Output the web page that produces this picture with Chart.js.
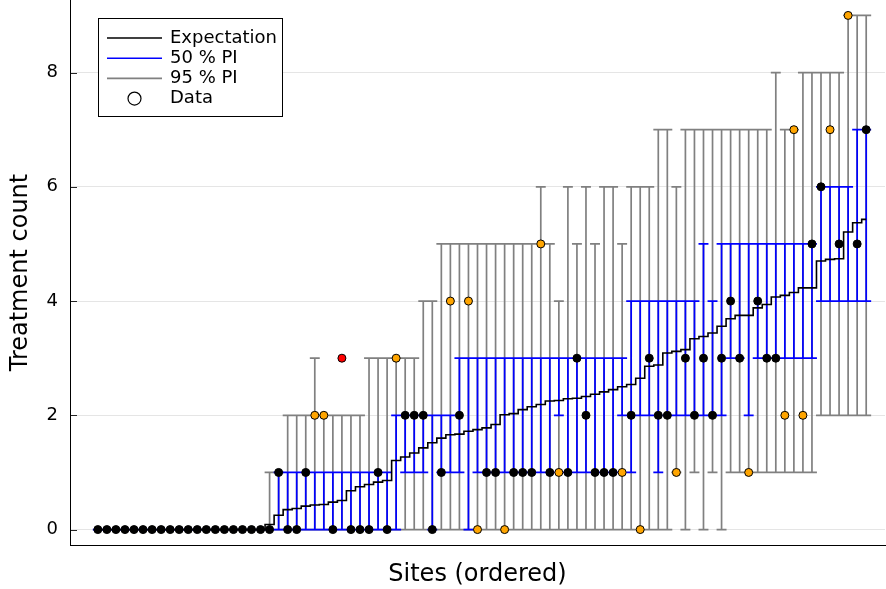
<!DOCTYPE html>
<html>
<head>
<meta charset="utf-8">
<script src="https://cdn.jsdelivr.net/npm/chart.js@4/dist/chart.umd.min.js"></script>
<style>html,body{margin:0;padding:0;background:#fff;overflow:hidden}</style>
</head>
<body>
<canvas id="c" width="886" height="589"></canvas>
<script>
// ---- data (sites ordered by expectation) ----
const sites = Array.from({length: 86}, (_, i) => i);
const observed = [
  0,0,0,0,0,0,0,0,0,0, 0,0,0,0,0,0,0,0,0,0,
  1,0,0,1,2,2,0,3,0,0, 0,1,0,3,2,2,2,0,1,4,
  2,4,0,1,1,0,1,1,1,5, 1,1,1,3,2,1,1,1,1,2,
  0,3,2,2,1,3,2,3,2,3, 4,3,1,4,3,3,2,7,2,5,
  6,7,5,9,5,7
];
const expectation = [
  0,0,0,0,0,0,0,0,0,0, 0,0,0,0,0,0,0,0,0,0.09,
  0.25,0.35,0.37,0.41,0.43,0.44,0.48,0.51,0.68,0.75,
  0.79,0.83,0.86,1.21,1.27,1.34,1.43,1.52,1.60,1.66,
  1.67,1.72,1.75,1.78,1.84,2.01,2.03,2.10,2.15,2.19,
  2.25,2.26,2.29,2.30,2.33,2.37,2.41,2.45,2.50,2.54,
  2.65,2.86,2.88,3.09,3.12,3.15,3.34,3.38,3.44,3.56,
  3.69,3.75,3.75,3.88,3.94,4.07,4.10,4.15,4.23,4.23,
  4.70,4.73,4.74,5.21,5.37,5.43
];
const lo50 = [
  0,0,0,0,0,0,0,0,0,0, 0,0,0,0,0,0,0,0,0,0,
  0,0,0,0,0,0,0,0,0,0, 0,0,0,0,1,1,1,0,1,1,
  1,0,1,1,1,1,1,1,1,1, 1,2,1,1,1,1,1,1,2,1,
  2,2,1,2,2,2,2,2,2,2, 3,3,2,3,3,3,3,3,3,3,
  4,4,4,4,4,4
];
const hi50 = [
  0,0,0,0,0,0,0,0,0,0, 0,0,0,0,0,0,0,0,0,0,
  1,1,1,1,1,1,1,1,1,1, 1,1,1,2,2,2,2,2,2,2,
  3,3,3,3,3,3,3,3,3,3, 3,3,3,3,3,3,3,3,3,4,
  4,4,4,4,4,4,4,5,4,5, 5,5,5,5,5,5,5,5,5,5,
  6,6,6,6,7,7
];
const lo95 = [
  0,0,0,0,0,0,0,0,0,0, 0,0,0,0,0,0,0,0,0,0,
  0,0,0,0,0,0,0,0,0,0, 0,0,0,0,0,0,0,0,0,0,
  0,0,0,0,0,0,0,0,0,0, 0,0,0,0,0,0,0,0,0,0,
  0,0,0,0,1,0,1,0,1,0, 1,1,1,1,1,1,1,1,1,1,
  2,2,2,2,2,2
];
const hi95 = [
  0,0,0,0,0,0,0,0,0,0, 0,0,0,0,0,0,0,0,0,1,
  1,2,2,2,3,2,2,2,2,2, 3,3,3,3,3,3,4,4,5,5,
  5,5,5,5,5,5,5,5,5,6, 5,4,6,5,6,5,6,6,5,6,
  6,6,7,7,6,7,7,7,7,7, 7,7,7,7,7,8,7,7,8,8,
  8,8,8,9,9,9
];
const yTicks = [0, 2, 4, 6, 8];
const labels = ['Expectation', '50 % PI', '95 % PI', 'Data'];

// ---- styles ----
const FONT = "'DejaVu Sans', sans-serif";
const COL_EXP = '#000000', COL_50 = '#0000ff', COL_95 = '#808080';
const CAP = 0.55; // half cap width, in site units

function intervalSegments(lo, hi) {
  const pts = [];
  sites.forEach((s, i) => {
    pts.push({x: s, y: lo[i]}, {x: s, y: hi[i]}, {x: s, y: null});
    pts.push({x: s - CAP, y: hi[i]}, {x: s + CAP, y: hi[i]}, {x: s, y: null});
    pts.push({x: s - CAP, y: lo[i]}, {x: s + CAP, y: lo[i]}, {x: s, y: null});
  });
  return pts;
}
const pointColors = observed.map((v, i) =>
  (v < lo95[i] || v > hi95[i]) ? '#ff0000' :
  (v < lo50[i] || v > hi50[i]) ? '#ffa500' : '#000000');

const innerTicks = {
  id: 'innerTicks',
  beforeDatasetsDraw(chart) {
    const y = chart.scales.y, ctx = chart.ctx, a = chart.chartArea;
    ctx.save();
    ctx.strokeStyle = 'rgba(0,0,0,0.85)';
    ctx.lineWidth = 1;
    y.ticks.forEach(t => {
      const p = Math.round(y.getPixelForValue(t.value)) + 0.5;
      ctx.beginPath(); ctx.moveTo(a.left, p); ctx.lineTo(a.left + 7, p); ctx.stroke();
    });
    ctx.restore();
  }
};

const boxLegend = {
  id: 'boxLegend',
  afterDraw(chart) {
    const ctx = chart.ctx;
    const bx = 98, by = 18, bw = 185, bh = 99;
    ctx.save();
    ctx.fillStyle = '#fff';
    ctx.fillRect(bx, by, bw, bh);
    ctx.strokeStyle = '#000'; ctx.lineWidth = 1;
    ctx.strokeRect(bx + 0.5, by + 0.5, bw - 1, bh - 1);
    const kinds = [COL_EXP, COL_50, COL_95, null];
    ctx.font = '18px ' + FONT;
    ctx.textBaseline = 'middle';
    labels.forEach((lab, k) => {
      const yy = 38 + k * 20.2;
      if (kinds[k]) {
        ctx.strokeStyle = kinds[k]; ctx.lineWidth = 1.6;
        ctx.beginPath(); ctx.moveTo(107, yy); ctx.lineTo(162, yy); ctx.stroke();
      } else {
        ctx.fillStyle = '#fff'; ctx.strokeStyle = '#000'; ctx.lineWidth = 1.2;
        ctx.beginPath(); ctx.arc(134.5, yy, 6.5, 0, Math.PI * 2); ctx.fill(); ctx.stroke();
      }
      ctx.fillStyle = '#000';
      ctx.fillText(lab, 170, yy);
    });
    ctx.restore();
  }
};

new Chart(document.getElementById('c'), {
  type: 'line',
  data: {
    datasets: [
      {
        label: labels[3], type: 'scatter', order: 0,
        data: sites.map((s, i) => ({x: s, y: observed[i]})),
        pointRadius: 4, pointBorderWidth: 1, pointBorderColor: '#000',
        pointBackgroundColor: pointColors, showLine: false
      },
      {
        label: labels[0], order: 1,
        data: sites.map((s, i) => ({x: s, y: expectation[i]})),
        stepped: 'middle', borderColor: COL_EXP, borderWidth: 1.6, pointRadius: 0, fill: false
      },
      {
        label: labels[1], order: 2, data: intervalSegments(lo50, hi50),
        borderColor: COL_50, borderWidth: 1.7, pointRadius: 0, spanGaps: false, fill: false
      },
      {
        label: labels[2], order: 3, data: intervalSegments(lo95, hi95),
        borderColor: COL_95, borderWidth: 1.7, pointRadius: 0, spanGaps: false, fill: false
      }
    ]
  },
  options: {
    responsive: false, animation: false, devicePixelRatio: 1,
    layout: {autoPadding: false, padding: {left: 0, right: 1, top: 0, bottom: 0}},
    plugins: {legend: {display: false}, tooltip: {enabled: false}},
    scales: {
      x: {
        type: 'linear', min: -3.08, max: 87.08,
        grid: {display: false}, ticks: {display: false},
        border: {display: true, color: '#000', width: 1},
        title: {display: true, text: 'Sites (ordered)', color: '#000',
                font: {family: FONT, size: 24}, padding: {top: 0, bottom: 0}},
        afterFit(s) { s.height = 44; s.paddingLeft = 0; s.paddingRight = 0; }
      },
      y: {
        type: 'linear', min: -0.27, max: 9.27,
        afterBuildTicks(s) { s.ticks = yTicks.map(v => ({value: v})); },
        ticks: {color: '#000', font: {family: FONT, size: 18}, padding: 12,
                callback: v => String(v)},
        grid: {color: 'rgba(0,0,0,0.1)', lineWidth: 1, drawTicks: false},
        border: {display: true, color: '#000', width: 1},
        title: {display: true, text: 'Treatment count', color: '#000',
                font: {family: FONT, size: 24}, padding: {top: 6, bottom: 0}},
        afterFit(s) { s.width = 70; s.paddingTop = 0; s.paddingBottom = 0; }
      }
    }
  },
  plugins: [innerTicks, boxLegend]
});
</script>
</body>
</html>
